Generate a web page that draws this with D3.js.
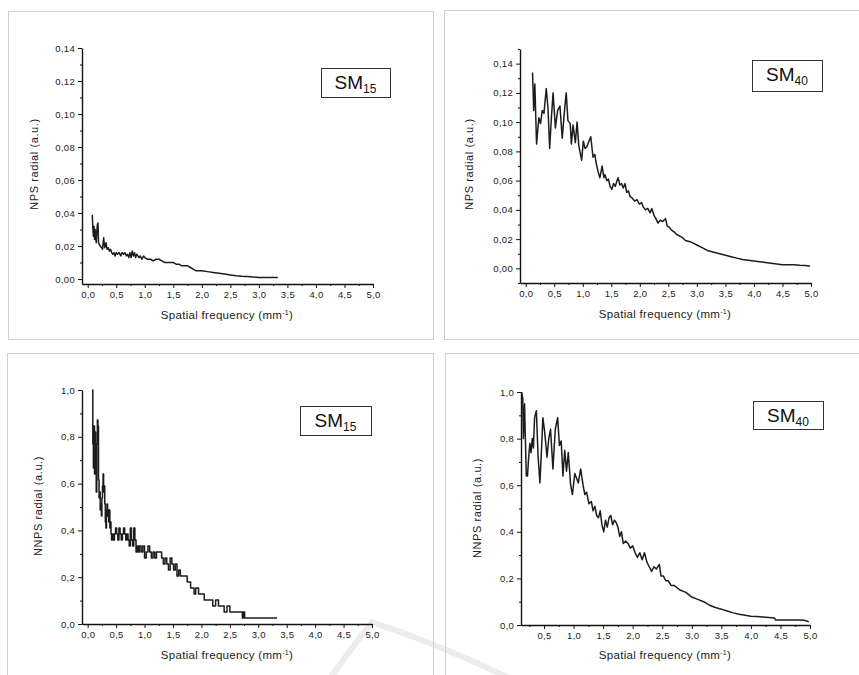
<!DOCTYPE html>
<html>
<head>
<meta charset="utf-8">
<script src="https://cdn.jsdelivr.net/npm/d3@7"></script>
<style>
  body { margin: 0; background: #fff; }
  svg { display: block; font-family: "Liberation Sans", Arial, sans-serif; }
  .axis text { font-size: 9.5px; fill: #222; letter-spacing: 0.3px; }
  .axis path, .axis line { stroke: #111; }
</style>
</head>
<body>
<svg id="chart" width="859" height="675"></svg>
<script>
// tick values (labels use a decimal comma)
const freqTicks = [0, 0.5, 1, 1.5, 2, 2.5, 3, 3.5, 4, 4.5, 5];
const freqMinor = [0.25, 0.75, 1.25, 1.75, 2.25, 2.75, 3.25, 3.75, 4.25, 4.75];
const npsTicks = [0, 0.02, 0.04, 0.06, 0.08, 0.10, 0.12, 0.14];
const npsMinor15 = [0.01, 0.03, 0.05, 0.07, 0.09, 0.11, 0.13];
const npsMinor40 = [-0.01, 0.01, 0.03, 0.05, 0.07, 0.09, 0.11, 0.13, 0.15];
const nnpsTicks = [0, 0.2, 0.4, 0.6, 0.8, 1.0];
const nnpsMinor = [0.1, 0.3, 0.5, 0.7, 0.9];

// NPS radial, SM15
const freqNps15 = [0.08, 0.09, 0.10, 0.11, 0.12, 0.13, 0.14, 0.15, 0.16, 0.17,
  0.18, 0.19, 0.20, 0.22, 0.24, 0.26, 0.28, 0.29, 0.30, 0.32,
  0.34, 0.36, 0.38, 0.40, 0.42, 0.44, 0.46, 0.48, 0.50, 0.52,
  0.55, 0.58, 0.60, 0.63, 0.65, 0.68, 0.70, 0.72, 0.74, 0.76,
  0.78, 0.80, 0.82, 0.84, 0.86, 0.88, 0.90, 0.92, 0.95, 0.98,
  1.00, 1.05, 1.10, 1.15, 1.20, 1.25, 1.30, 1.35, 1.40, 1.45,
  1.50, 1.55, 1.60, 1.65, 1.70, 1.75, 1.80, 1.85, 1.90, 2.00,
  2.10, 2.20, 2.30, 2.40, 2.50, 2.60, 2.70, 2.80, 2.90, 3.00,
  3.33];
const nps15 = [0.039, 0.031, 0.026, 0.032, 0.024, 0.030, 0.025, 0.022, 0.029, 0.033,
  0.034, 0.022, 0.021, 0.020, 0.019, 0.018, 0.025, 0.021, 0.019, 0.022,
  0.018, 0.019, 0.017, 0.018, 0.016, 0.015, 0.016, 0.014, 0.016, 0.015,
  0.016, 0.014, 0.016, 0.015, 0.016, 0.014, 0.015, 0.013, 0.016, 0.013,
  0.017, 0.014, 0.016, 0.013, 0.015, 0.014, 0.013, 0.014, 0.012, 0.014,
  0.013, 0.012, 0.012, 0.011, 0.012, 0.012, 0.011, 0.010, 0.010, 0.010,
  0.010, 0.009, 0.009, 0.008, 0.008, 0.008, 0.007, 0.006, 0.005, 0.005,
  0.0045, 0.004, 0.0035, 0.003, 0.0025, 0.002, 0.0017, 0.0015, 0.0012, 0.001,
  0.001];

// NPS radial, SM40
const freqNps40 = [0.12, 0.14, 0.16, 0.19, 0.23, 0.26, 0.29, 0.32, 0.36, 0.39,
  0.42, 0.45, 0.48, 0.52, 0.56, 0.60, 0.64, 0.68, 0.71, 0.74,
  0.78, 0.80, 0.83, 0.87, 0.90, 0.93, 0.98, 1.01, 1.04, 1.07,
  1.10, 1.14, 1.18, 1.21, 1.24, 1.27, 1.30, 1.34, 1.37, 1.39,
  1.42, 1.45, 1.48, 1.51, 1.54, 1.57, 1.60, 1.62, 1.65, 1.68,
  1.71, 1.74, 1.77, 1.80, 1.83, 1.87, 1.91, 1.95, 1.99, 2.03,
  2.06, 2.10, 2.14, 2.18, 2.21, 2.25, 2.28, 2.32, 2.36, 2.40,
  2.45, 2.48, 2.52, 2.56, 2.60, 2.65, 2.70, 2.75, 2.80, 2.90,
  3.00, 3.10, 3.20, 3.30, 3.40, 3.50, 3.60, 3.70, 3.80, 3.90,
  4.00, 4.10, 4.20, 4.30, 4.40, 4.50, 4.60, 4.70, 4.80, 4.90,
  4.98];
const nps40 = [0.134, 0.108, 0.126, 0.085, 0.103, 0.099, 0.108, 0.106, 0.123, 0.110,
  0.082, 0.103, 0.120, 0.096, 0.108, 0.111, 0.089, 0.108, 0.120, 0.101,
  0.099, 0.085, 0.098, 0.086, 0.100, 0.084, 0.074, 0.087, 0.082, 0.083,
  0.086, 0.090, 0.076, 0.078, 0.071, 0.066, 0.062, 0.070, 0.062, 0.064,
  0.060, 0.061, 0.056, 0.054, 0.058, 0.056, 0.060, 0.062, 0.057, 0.058,
  0.055, 0.058, 0.052, 0.053, 0.049, 0.048, 0.046, 0.047, 0.044, 0.045,
  0.042, 0.040, 0.041, 0.038, 0.041, 0.036, 0.034, 0.031, 0.033, 0.032,
  0.034, 0.029, 0.028, 0.026, 0.025, 0.023, 0.022, 0.021, 0.019, 0.018,
  0.016, 0.014, 0.012, 0.011, 0.010, 0.009, 0.008, 0.007, 0.006, 0.0055,
  0.005, 0.0045, 0.004, 0.0035, 0.003, 0.0025, 0.0025, 0.0025, 0.0022, 0.002,
  0.0015];

// NNPS radial, SM15 (quantised values)
const freqNnps15 = [0.08, 0.09, 0.10, 0.11, 0.12, 0.13, 0.14, 0.15, 0.16, 0.17,
  0.18, 0.19, 0.20, 0.21, 0.22, 0.23, 0.24, 0.25, 0.26, 0.27,
  0.28, 0.29, 0.30, 0.31, 0.32, 0.33, 0.34, 0.35, 0.36, 0.37,
  0.38, 0.39, 0.40, 0.41, 0.42, 0.43, 0.45, 0.47, 0.49, 0.51,
  0.53, 0.55, 0.57, 0.59, 0.61, 0.63, 0.65, 0.67, 0.69, 0.71,
  0.73, 0.75, 0.77, 0.79, 0.81, 0.83, 0.85, 0.87, 0.89, 0.91,
  0.94, 0.97, 1.00, 1.03, 1.06, 1.09, 1.12, 1.15, 1.18, 1.21,
  1.24, 1.27, 1.30, 1.33, 1.36, 1.39, 1.42, 1.45, 1.48, 1.51,
  1.54, 1.57, 1.60, 1.63, 1.66, 1.69, 1.72, 1.75, 1.78, 1.81,
  1.84, 1.87, 1.90, 1.95, 2.00, 2.05, 2.10, 2.15, 2.20, 2.25,
  2.30, 2.35, 2.40, 2.45, 2.50, 2.60, 2.70, 2.72, 2.74, 2.76,
  2.79, 3.33];
const nnps15 = [1.000, 0.769, 0.667, 0.846, 0.641, 0.821, 0.692, 0.564, 0.769, 0.872,
  0.846, 0.615, 0.538, 0.564, 0.487, 0.513, 0.462, 0.538, 0.590, 0.641,
  0.564, 0.590, 0.513, 0.436, 0.410, 0.487, 0.513, 0.462, 0.487, 0.436,
  0.487, 0.410, 0.436, 0.385, 0.359, 0.385, 0.359, 0.385, 0.410, 0.385,
  0.359, 0.410, 0.385, 0.359, 0.385, 0.410, 0.385, 0.359, 0.385, 0.359,
  0.333, 0.410, 0.359, 0.333, 0.410, 0.359, 0.308, 0.333, 0.308, 0.333,
  0.308, 0.333, 0.282, 0.308, 0.333, 0.308, 0.282, 0.308, 0.282, 0.308,
  0.308, 0.308, 0.282, 0.256, 0.282, 0.256, 0.231, 0.282, 0.256, 0.231,
  0.256, 0.205, 0.231, 0.205, 0.205, 0.205, 0.205, 0.179, 0.179, 0.154,
  0.154, 0.128, 0.154, 0.128, 0.128, 0.103, 0.103, 0.103, 0.077, 0.103,
  0.077, 0.077, 0.051, 0.077, 0.051, 0.051, 0.051, 0.026, 0.051, 0.026,
  0.026, 0.026];

// NNPS radial, SM40
const freqNnps40 = [0.12, 0.14, 0.15, 0.17, 0.18, 0.20, 0.22, 0.24, 0.26, 0.28,
  0.30, 0.32, 0.34, 0.37, 0.40, 0.43, 0.46, 0.48, 0.51, 0.55,
  0.58, 0.61, 0.65, 0.69, 0.73, 0.76, 0.79, 0.82, 0.85, 0.88,
  0.91, 0.95, 0.98, 1.02, 1.05, 1.08, 1.12, 1.16, 1.19, 1.22,
  1.26, 1.30, 1.33, 1.36, 1.39, 1.42, 1.45, 1.48, 1.51, 1.54,
  1.57, 1.60, 1.63, 1.66, 1.69, 1.72, 1.75, 1.78, 1.81, 1.84,
  1.88, 1.92, 1.96, 2.00, 2.04, 2.08, 2.12, 2.16, 2.20, 2.24,
  2.28, 2.32, 2.36, 2.40, 2.45, 2.48, 2.52, 2.56, 2.60, 2.65,
  2.70, 2.75, 2.80, 2.90, 3.00, 3.10, 3.20, 3.30, 3.40, 3.50,
  3.60, 3.70, 3.80, 3.90, 4.00, 4.10, 4.20, 4.30, 4.40, 4.42,
  4.60, 4.80, 4.90, 4.98];
const nnps40 = [1.00, 0.97, 0.80, 0.95, 0.84, 0.64, 0.64, 0.72, 0.78, 0.74,
  0.80, 0.76, 0.89, 0.92, 0.72, 0.61, 0.77, 0.89, 0.83, 0.72,
  0.80, 0.84, 0.67, 0.84, 0.89, 0.77, 0.79, 0.64, 0.75, 0.66,
  0.74, 0.60, 0.56, 0.65, 0.63, 0.61, 0.67, 0.60, 0.56, 0.57,
  0.52, 0.53, 0.49, 0.51, 0.47, 0.46, 0.49, 0.43, 0.40, 0.45,
  0.42, 0.46, 0.47, 0.43, 0.45, 0.44, 0.42, 0.38, 0.40, 0.35,
  0.36, 0.35, 0.33, 0.34, 0.31, 0.29, 0.31, 0.28, 0.31, 0.27,
  0.25, 0.23, 0.25, 0.24, 0.26, 0.21, 0.21, 0.19, 0.19, 0.17,
  0.17, 0.16, 0.15, 0.14, 0.12, 0.11, 0.10, 0.085, 0.075, 0.068,
  0.060, 0.052, 0.046, 0.042, 0.038, 0.036, 0.034, 0.032, 0.030, 0.021,
  0.021, 0.021, 0.020, 0.014];

const comma = dec => v => d3.format(`.${dec}f`)(v).replace('.', ',');

class SpectrumPanel {

  constructor(_config, _x, _y) {
    this.config = _config;
    this.data = d3.zip(_x, _y);   // [freq, value] pairs
    this.initVis();
  }

  initVis() {
    let vis = this;
    const c = vis.config;
    vis.svg = d3.select('#chart');
    vis.g = vis.svg.append('g');

    // light frame round each figure
    vis.g.append('rect')
        .attr('x', c.frame[0] + 0.5).attr('y', c.frame[1] + 0.5)
        .attr('width', c.frame[2]).attr('height', c.frame[3])
        .attr('fill', 'none').attr('stroke', '#cfcfcf');

    vis.xScale = d3.scaleLinear().domain(c.xDomain).range([c.left, c.right]);
    vis.yScale = d3.scaleLinear().domain(c.yDomain).range([c.bottom, c.top]);

    // minor ticks first, then major ticks with labels
    vis.g.append('g')
        .attr('class', 'axis')
        .attr('transform', `translate(0,${c.bottom})`)
        .call(d3.axisBottom(vis.xScale).tickValues(c.xMinor).tickSize(2).tickFormat(''))
        .call(g => g.select('.domain').remove());
    vis.g.append('g')
        .attr('class', 'axis')
        .attr('transform', `translate(${c.left},0)`)
        .call(d3.axisLeft(vis.yScale).tickValues(c.yMinor).tickSize(2).tickFormat(''))
        .call(g => g.select('.domain').remove());

    vis.g.append('g')
        .attr('class', 'axis')
        .attr('transform', `translate(0,${c.bottom})`)
        .call(d3.axisBottom(vis.xScale).tickValues(c.xTicks).tickSize(4).tickSizeOuter(0)
          .tickPadding(3).tickFormat(comma(1)));
    vis.g.append('g')
        .attr('class', 'axis')
        .attr('transform', `translate(${c.left},0)`)
        .call(d3.axisLeft(vis.yScale).tickValues(c.yTicks).tickSize(4).tickSizeOuter(0)
          .tickPadding(3).tickFormat(comma(c.yDec)));

    vis.g.selectAll('.axis path.domain').attr('stroke-width', 1.4);

    let line = d3.line()
        .x(d => vis.xScale(d[0]))
        .y(d => vis.yScale(d[1]))
        .curve(c.step ? d3.curveStepAfter : d3.curveLinear);

    vis.g.append('path')
        .datum(vis.data)
        .attr('d', line)
        .attr('fill', 'none')
        .attr('stroke', '#1c1c1c')
        .attr('stroke-width', 1.5)
        .attr('stroke-linejoin', 'round');

    // axis titles
    vis.g.append('text')
        .attr('transform', `translate(${c.yTitle[0]},${c.yTitle[1]}) rotate(-90)`)
        .attr('text-anchor', 'middle')
        .style('font-size', '11px').style('letter-spacing', '0.6px').style('fill', '#222')
        .text(c.yLabel);

    let xt = vis.g.append('text')
        .attr('x', c.xTitle[0]).attr('y', c.xTitle[1])
        .attr('text-anchor', 'middle')
        .style('font-size', '11.5px').style('letter-spacing', '0.3px').style('fill', '#222');
    xt.append('tspan').text('Spatial frequency (mm');
    xt.append('tspan').attr('dy', -4).style('font-size', '7px').text('-1');
    xt.append('tspan').attr('dy', 4).text(')');

    // sample label box
    const b = c.box;
    vis.g.append('rect')
        .attr('x', b[0] + 0.5).attr('y', b[1] + 0.5)
        .attr('width', b[2]).attr('height', b[3])
        .attr('fill', '#fff').attr('stroke', '#333');
    let lt = vis.g.append('text')
        .attr('x', b[0] + b[2] / 2).attr('y', b[1] + 21)
        .attr('text-anchor', 'middle')
        .style('fill', '#111');
    lt.append('tspan').style('font-size', '19px').text('SM');
    lt.append('tspan').attr('dy', 4).style('font-size', '12px').text(c.sample);
  }
}

const panels = [
  { frame: [8, 11, 425, 328], xDomain: [-0.1, 5.0], yDomain: [-0.003, 0.14],
    left: 82, right: 373, top: 48, bottom: 284,
    xTicks: freqTicks, xMinor: freqMinor, yTicks: npsTicks, yMinor: npsMinor15, yDec: 2,
    yLabel: 'NPS radial (a.u.)', yTitle: [38, 164], xTitle: [227, 319],
    box: [321, 68, 69, 29], sample: '15', x: freqNps15, y: nps15 },
  { frame: [444, 10, 420, 329], xDomain: [-0.1, 5.0], yDomain: [-0.01, 0.15],
    left: 520, right: 811, top: 49, bottom: 283,
    xTicks: freqTicks, xMinor: freqMinor, yTicks: npsTicks, yMinor: npsMinor40, yDec: 2,
    yLabel: 'NPS radial (a.u.)', yTitle: [473, 164], xTitle: [665, 318],
    box: [752, 60, 70, 31], sample: '40', x: freqNps40, y: nps40 },
  { frame: [7, 353, 426, 330], xDomain: [-0.1, 5.0], yDomain: [0, 1],
    left: 82, right: 372, top: 390, bottom: 624,
    xTicks: freqTicks, xMinor: freqMinor, yTicks: nnpsTicks, yMinor: nnpsMinor, yDec: 1,
    yLabel: 'NNPS radial (a.u.)', yTitle: [42, 506], xTitle: [227, 659],
    box: [300, 406, 71, 29], sample: '15', x: freqNnps15, y: nnps15, step: true },
  { frame: [445, 353, 420, 330], xDomain: [0.11, 5.0], yDomain: [0, 1],
    left: 521, right: 810, top: 392, bottom: 625,
    xTicks: freqTicks.slice(1), xMinor: freqMinor, yTicks: nnpsTicks, yMinor: nnpsMinor, yDec: 1,
    yLabel: 'NNPS radial (a.u.)', yTitle: [481, 508], xTitle: [665, 659],
    box: [753, 401, 70, 28], sample: '40', x: freqNnps40, y: nnps40 }
];

// faint publisher watermark behind the lower figures
d3.select('#chart').append('path')
    .attr('d', 'M330,678 Q352,648 372,622 Q440,645 505,676')
    .attr('fill', 'none').attr('stroke', '#ececec').attr('stroke-width', 6)
    .attr('stroke-linecap', 'round');

panels.forEach(p => new SpectrumPanel(p, p.x, p.y));
</script>
</body>
</html>
